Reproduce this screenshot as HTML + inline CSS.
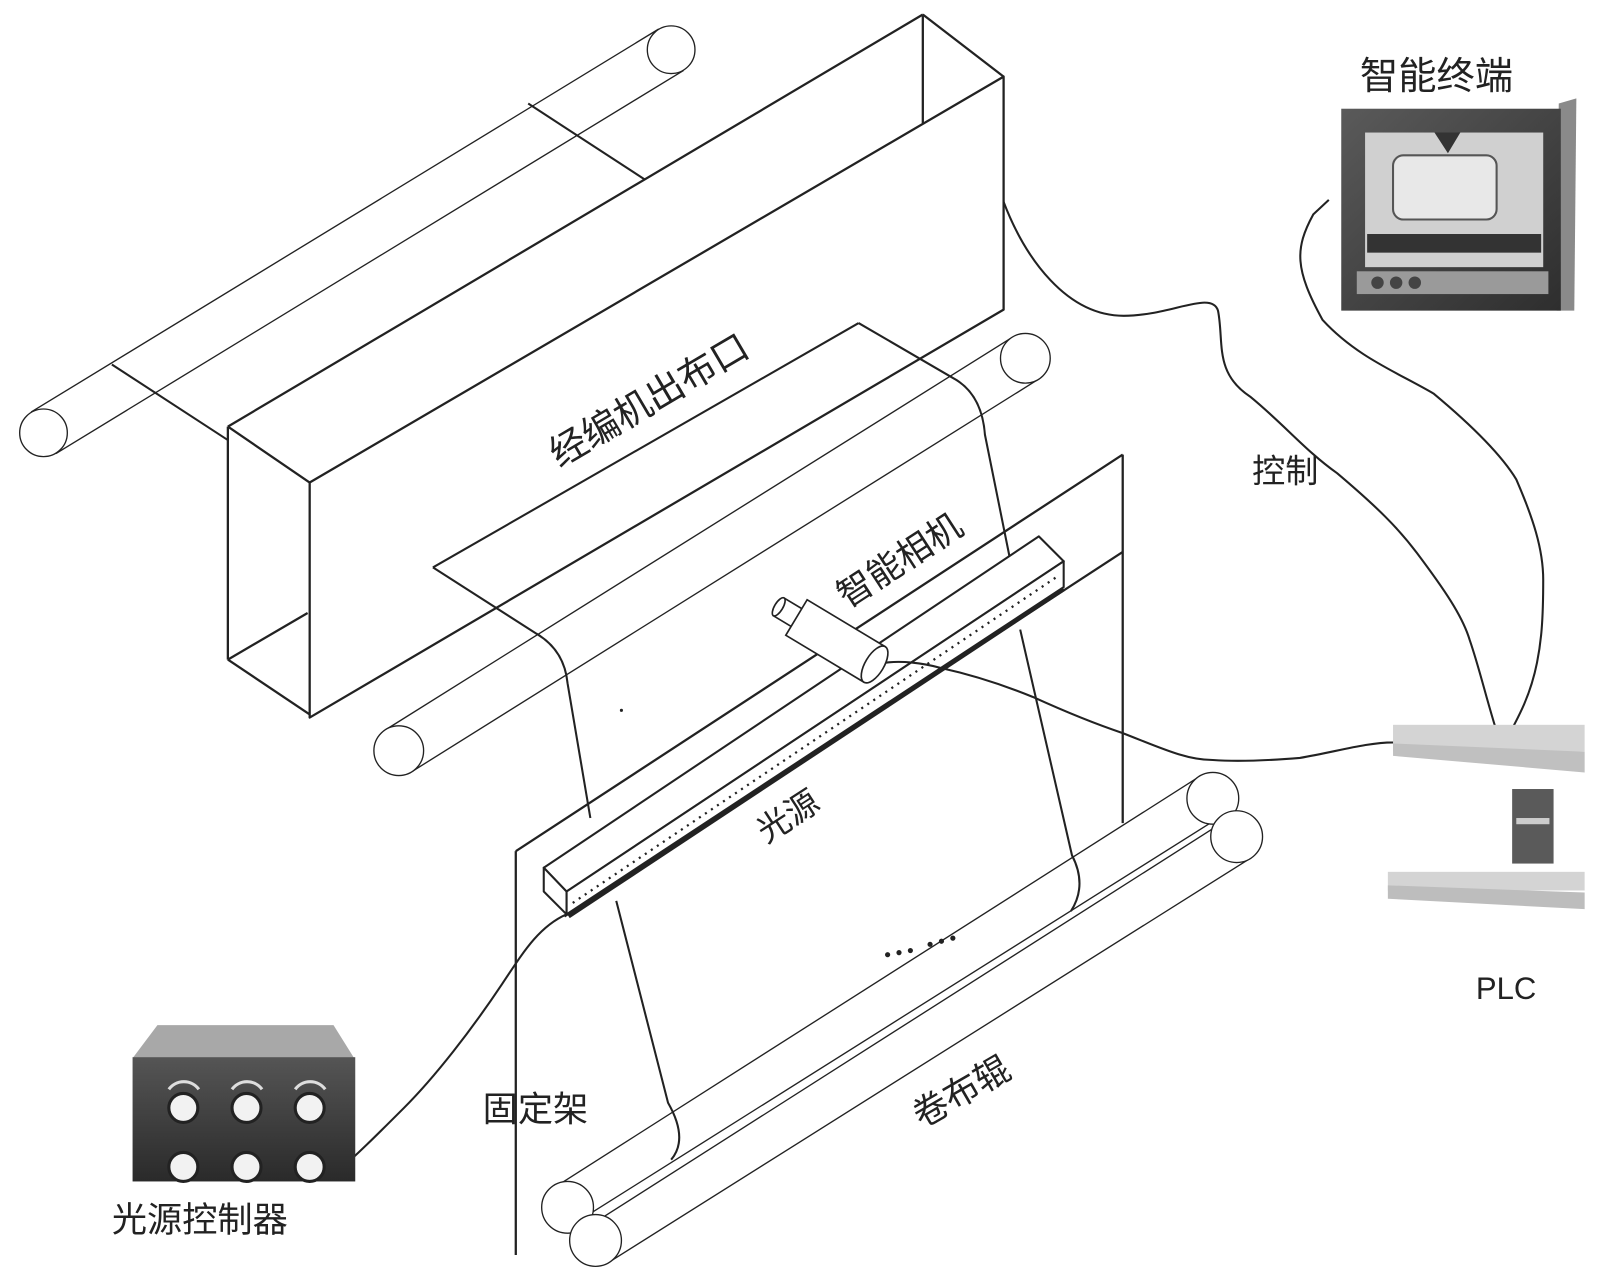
<!DOCTYPE html>
<html><head><meta charset="utf-8"><style>
html,body{margin:0;padding:0;background:#fff;}
svg{display:block;}
text{font-family:"Liberation Sans","Noto Sans CJK SC",sans-serif;fill:#222;}
</style></head><body>
<svg width="1624" height="1285" viewBox="0 0 1568 1241" preserveAspectRatio="none" xmlns="http://www.w3.org/2000/svg">
<defs>
<linearGradient id="tg" x1="0" y1="0" x2="1" y2="1"><stop offset="0" stop-color="#5a5a5a"/><stop offset="1" stop-color="#2e2e2e"/></linearGradient>
<linearGradient id="cg" x1="0" y1="0" x2="0" y2="1"><stop offset="0" stop-color="#555"/><stop offset="1" stop-color="#2a2a2a"/></linearGradient>
</defs>
<g fill="none" stroke="#222" stroke-width="1.3">
<line x1="54" y1="438" x2="660" y2="68"/>
<line x1="30" y1="398" x2="636" y2="28"/>
<circle cx="42" cy="418" r="23" fill="#fff"/>
<circle cx="648" cy="48" r="23" fill="#fff"/>
<line x1="108" y1="352" x2="220" y2="425" stroke-width="2"/>
<line x1="510" y1="100" x2="622" y2="173" stroke-width="2"/>
<line x1="398" y1="745" x2="1003" y2="366"/>
<line x1="372" y1="705" x2="977" y2="326"/>
<circle cx="385" cy="725" r="24" fill="#fff"/>
<circle cx="990" cy="346" r="24" fill="#fff"/>
</g>
<g fill="none" stroke="#222" stroke-width="2.2" stroke-linejoin="round">
<polygon points="299,466 969,74 969,299 299,693" fill="#fff"/>
<line x1="220" y1="412" x2="891" y2="14"/>
<line x1="891" y1="14" x2="969" y2="74"/>
<line x1="220" y1="412" x2="299" y2="466"/>
<line x1="891" y1="14" x2="891" y2="119"/>
<line x1="220" y1="412" x2="220" y2="637"/>
<line x1="220" y1="637" x2="299" y2="690"/>
<line x1="220" y1="637" x2="297" y2="592"/>
</g>
<g fill="none" stroke="#222" stroke-width="2">
<path d="M418,548 L829,312"/>
<path d="M418,548 L518,612 Q545,628 548,660 L570,790"/>
<path d="M829,312 L920,365 Q948,380 951,420 L975,539"/>
<path d="M595,870 L645,1065 Q665,1100 648,1120"/>
<path d="M985,608 L1035,826 Q1050,855 1034,880"/>
</g>
<g fill="none" stroke="#222" stroke-width="1.3">
<line x1="561" y1="1189" x2="1184" y2="792"/>
<line x1="535" y1="1147" x2="1158" y2="750"/>
<line x1="588" y1="1219" x2="1207" y2="829"/>
<line x1="562" y1="1177" x2="1181" y2="787"/>
<circle cx="1171" cy="771" r="25" fill="#fff"/>
<circle cx="1194" cy="808" r="25" fill="#fff"/>
<circle cx="548" cy="1166" r="25" fill="#fff"/>
<circle cx="575" cy="1198" r="25" fill="#fff"/>
</g>
<g fill="none" stroke="#222" stroke-width="2.2">
<line x1="498" y1="822" x2="1084" y2="439"/>
<line x1="1084" y1="439" x2="1084" y2="795"/>
<line x1="545" y1="885" x2="1084" y2="533"/>
<line x1="498" y1="822" x2="498" y2="1212"/>
</g>
<g stroke="#222" stroke-width="2" stroke-linejoin="round">
<polygon points="525,838 1003,518 1027,542 547,861" fill="#fff"/>
<polygon points="547,861 1027,542 1027,567 547,883" fill="#fff"/>
<polygon points="525,838 547,861 547,883 525,861" fill="#fff"/>
<line x1="549" y1="885" x2="1027" y2="569" stroke-width="4"/>
<line x1="553" y1="872" x2="1022" y2="556" stroke-width="2.2" stroke-dasharray="2,5" fill="none"/>
</g>
<g transform="translate(805,618) rotate(31)" stroke="#222" stroke-width="1.6" fill="#fff">
<rect x="-62" y="-10" width="22" height="20"/>
<ellipse cx="-62" cy="0" rx="4" ry="10"/>
<rect x="-42" y="-20" width="88" height="40"/>
<ellipse cx="46" cy="0" rx="9" ry="20"/>
</g>
<g fill="none" stroke="#222" stroke-width="2">
<path d="M969,195 C990,250 1030,305 1085,305 C1130,305 1170,280 1176,300 C1182,330 1172,360 1207,383 C1240,410 1260,435 1291,457 C1330,490 1350,510 1368,534 C1395,570 1412,595 1419,618 C1430,650 1436,680 1450,722"/>
<path d="M1283,193 L1268,207 C1250,240 1250,260 1277,309 C1310,345 1350,360 1384,380 C1420,410 1450,440 1464,463 C1480,500 1490,530 1490,560 C1490,600 1488,620 1484,640 C1478,670 1468,690 1450,722"/>
<path d="M855,640 C870,638 890,640 908,645 C940,652 970,662 997,673 C1030,688 1060,700 1084,708 C1120,722 1145,734 1171,734 C1200,736 1230,734 1255,732 C1290,726 1320,717 1345,717 C1370,716 1395,720 1412,726"/>
<path d="M547,883 C520,895 505,920 485,950 C455,995 420,1040 390,1070 C365,1095 345,1115 322,1135"/>
</g>
<g>
<polygon points="1505,100 1522,95 1520,300 1503,300" fill="#8a8a8a"/>
<rect x="1295" y="105" width="212" height="195" fill="url(#tg)"/>
<rect x="1318" y="128" width="172" height="130" fill="#d0d0d0"/>
<polygon points="1385,128 1410,128 1398,148" fill="#333"/>
<rect x="1345" y="150" width="100" height="62" rx="10" fill="#e8e8e8" stroke="#555" stroke-width="2"/>
<rect x="1320" y="226" width="168" height="18" fill="#333"/>
<rect x="1310" y="262" width="185" height="22" fill="#9a9a9a"/>
<circle cx="1330" cy="273" r="6" fill="#444"/><circle cx="1348" cy="273" r="6" fill="#444"/><circle cx="1366" cy="273" r="6" fill="#444"/>
</g>
<g>
<rect x="1345" y="700" width="185" height="26" fill="#d4d4d4"/>
<polygon points="1345,718 1530,726 1530,746 1345,730" fill="#c0c0c0"/>
<rect x="1460" y="762" width="40" height="72" fill="#5a5a5a"/>
<rect x="1464" y="790" width="32" height="6" fill="#ccc"/>
<rect x="1340" y="842" width="190" height="18" fill="#d4d4d4"/>
<polygon points="1340,855 1530,862 1530,878 1340,868" fill="#bdbdbd"/>
</g>
<g>
<polygon points="152,990 322,990 342,1022 128,1022" fill="#a8a8a8"/>
<rect x="128" y="1021" width="215" height="120" fill="url(#cg)"/>
<g fill="#f2f2f2" stroke="#222" stroke-width="3">
<circle cx="177" cy="1070" r="14"/><circle cx="238" cy="1070" r="14"/><circle cx="299" cy="1070" r="14"/>
<circle cx="177" cy="1127" r="14"/><circle cx="238" cy="1127" r="14"/><circle cx="299" cy="1127" r="14"/>
</g>
<g fill="none" stroke="#ddd" stroke-width="3">
<path d="M163,1052 A18,18 0 0 1 192,1052"/><path d="M224,1052 A18,18 0 0 1 253,1052"/><path d="M285,1052 A18,18 0 0 1 314,1052"/>
</g>
</g>
<g font-size="34">
<text x="1313" y="86" font-size="37">智能终端</text>
<text x="1209" y="466" font-size="32">控制</text>
<text x="466" y="1083">固定架</text>
<text x="108" y="1190">光源控制器</text>
<text x="1425" y="965" font-family="Liberation Serif" font-size="30">PLC</text>
<text transform="translate(540,452) rotate(-30.5)" font-size="36">经编机出布口</text>
<text transform="translate(818,588) rotate(-33)" font-size="34">智能相机</text>
<text transform="translate(740,815) rotate(-33)" font-size="32">光源</text>
<text transform="translate(890,1090) rotate(-30)" font-size="34">卷布辊</text>
</g>
<g fill="#222">
<circle cx="857" cy="922" r="2.5"/><circle cx="868" cy="920" r="2.5"/><circle cx="879" cy="918" r="2.5"/>
<circle cx="898" cy="912" r="2.5"/><circle cx="909" cy="909" r="2.5"/><circle cx="920" cy="906" r="2.5"/>
<circle cx="600" cy="686" r="1.5"/>
</g>
</svg>
</body></html>
